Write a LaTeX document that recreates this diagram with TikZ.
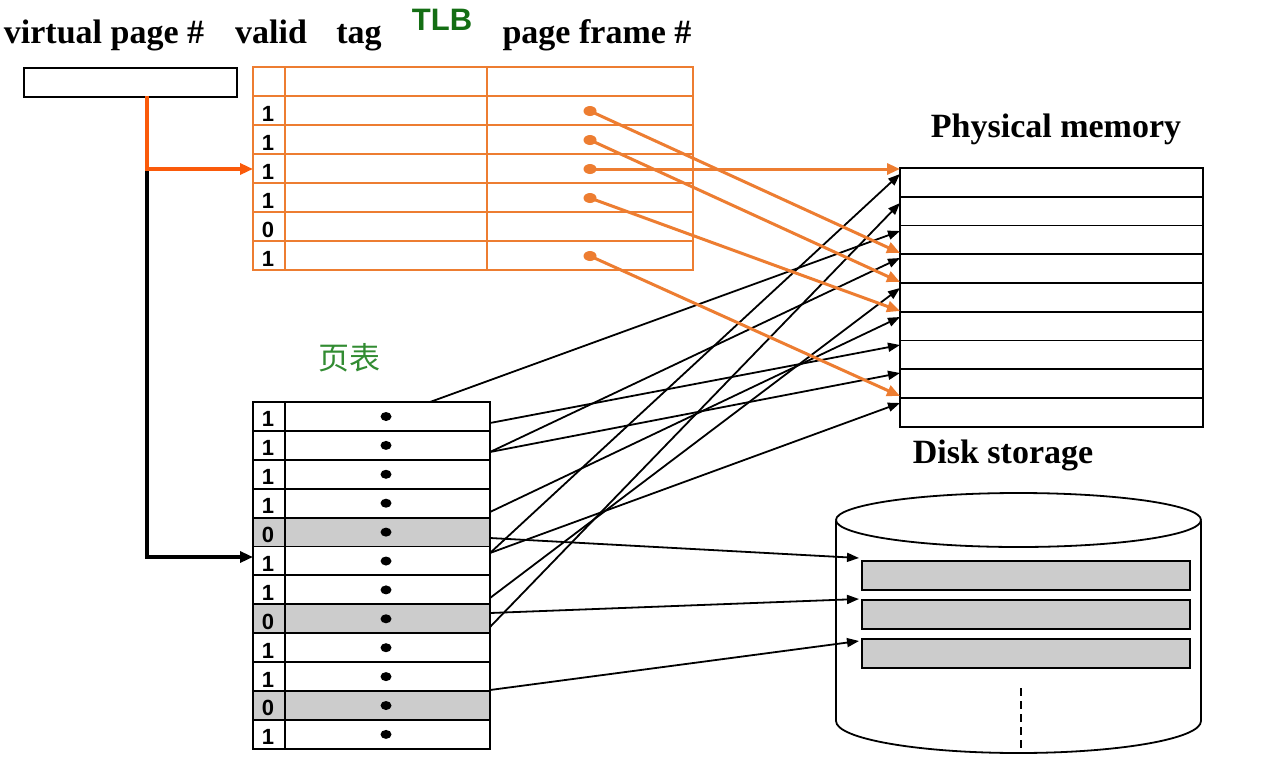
\documentclass[tikz,border=0pt]{standalone}
\usepackage{fontspec}
\setmainfont{Liberation Serif}
\setsansfont{Liberation Sans}
\newfontfamily\cjkfont{Noto Sans CJK SC}
\usetikzlibrary{arrows.meta,calc,shapes.geometric}

\definecolor{tlborange}{RGB}{237,125,49}
\definecolor{vporange}{RGB}{250,90,10}
\definecolor{tlbgreen}{RGB}{20,110,20}
\definecolor{ptgreen}{RGB}{50,140,50}
\definecolor{slotgray}{RGB}{204,204,204}

\begin{document}
\begin{tikzpicture}[x=1pt,y=-1pt,
  hdr/.style={font=\fontsize{34}{36}\selectfont\bfseries, anchor=base, inner sep=0pt},
  digit/.style={font=\sffamily\bfseries\fontsize{22}{24}\selectfont, anchor=base, inner sep=0pt},
  tblline/.style={line width=1.9pt},
  tlbline/.style={draw=tlborange, line width=2pt},
  link/.style={line width=1.8pt, -{Triangle[length=12pt,width=9pt]}},
  tlblink/.style={draw=tlborange, line width=3pt, -{Triangle[length=13pt,width=11pt]}},
  feed/.style={line width=3.2pt, -{Triangle[length=13pt,width=11pt]}},
  slot/.style={draw, line width=1.8pt, fill=slotgray, minimum width=328pt, minimum height=29pt, anchor=north west, inner sep=0pt},
  pfdot/.style={fill=tlborange, ellipse, minimum width=13pt, minimum height=10pt, inner sep=0pt},
  ptdot/.style={fill=black, ellipse, minimum width=11pt, minimum height=9pt, inner sep=0pt}
]
\useasboundingbox (0,0) rectangle (1268,769);
\fill[white] (0,0) rectangle (1268,769);

% ---------- headings ----------
\node[hdr] (lblvp) at (104,43) {virtual page \#};
\node[hdr] (lblvalid) at (271,43) {valid};
\node[hdr] (lbltag) at (359,43) {tag};
\node[anchor=base, inner sep=0pt, text=tlbgreen, font=\sffamily\bfseries\fontsize{31}{33}\selectfont] (lbltlb) at (442,30) {TLB};
\node[hdr] (lblpf) at (597,43) {page frame \#};
\node[hdr] (lblpm) at (1056,137) {Physical memory};
\node[hdr] (lbldisk) at (1003,463) {Disk storage};
\node[inner sep=0pt, text=ptgreen, font=\cjkfont\fontsize{31}{33}\selectfont] (lblpt) at (349,358) {页表};

% ---------- virtual page number register ----------
\node[draw, tblline, fill=white, minimum width=213pt, minimum height=29pt, anchor=north west, inner sep=0pt] (vpbox) at (23,67) {};
\coordinate (vpout) at (147,96);
\coordinate (tlbin) at (253,169);
\coordinate (ptin) at (253,557);
\draw[feed] (vpout) |- (ptin);
\draw[feed, vporange] (vpout) |- (tlbin);

% ---------- TLB ----------
\draw[tlbline] (253,67) rectangle (693,270);
\foreach \yy in {96,125,154,183,212,241} \draw[tlbline] (253,\yy) -- (693,\yy);
\draw[tlbline] (285,67) -- (285,270);
\draw[tlbline] (487,67) -- (487,270);
\foreach \v [count=\k] in {1,1,1,1,0,1}
  \node[digit] at (268,{96+29*\k-4}) {\v};
\node[pfdot] (tlbA) at (590,111) {};
\node[pfdot] (tlbB) at (590,140) {};
\node[pfdot] (tlbC) at (590,169) {};
\node[pfdot] (tlbD) at (590,198) {};
\node[pfdot] (tlbE) at (590,256) {};

% ---------- physical memory ----------
\draw[tblline] (900,168) rectangle (1203,426.75);
\foreach \k in {1,...,8} \draw[tblline] (900,{168+28.75*\k}) -- (1203,{168+28.75*\k});

% ---------- page table ----------
\foreach \k in {4,7,10} \fill[slotgray] (253,{402+28.9*\k}) rectangle (490,{402+28.9*(\k+1)});
\draw[tblline] (253,402) rectangle (490,748.8);
\foreach \k in {1,...,11} \draw[tblline] (253,{402+28.9*\k}) -- (490,{402+28.9*\k});
\draw[tblline] (285,402) -- (285,748.8);
\foreach \v [count=\k] in {1,1,1,1,0,1,1,0,1,1,0,1}
  \node[digit] at (268,{402+28.9*\k-4}) {\v};
\foreach \k in {0,...,11}
  \node[ptdot] (ptd\k) at (386,{402+28.9*\k+14.5}) {};

% ---------- disk ----------
\draw[line width=1.8pt, fill=white] (836,521) -- (836,721)
  arc[start angle=180, end angle=0, x radius=182.5, y radius=32] -- (1201,521);
\draw[line width=1.8pt, fill=white] (1018.5,520) ellipse [x radius=182.5, y radius=27];
\node[slot] (blk1) at (861,560) {};
\node[slot] (blk2) at (861,599) {};
\node[slot] (blk3) at (861,638) {};
\coordinate (dashtop) at (1021,688);
\coordinate (dashbot) at (1021,748);
\draw[line width=1.6pt, dash pattern=on 8pt off 5pt] (dashtop) -- (dashbot);

% ---------- connector end points ----------
\coordinate (ptTop) at (430,402);
\coordinate (pt1) at (490,423);
\coordinate (pt2) at (490,452);
\coordinate (pt4) at (490,512);
\coordinate (pt5) at (490,538);
\coordinate (pt6) at (490,553);
\coordinate (pt7) at (490,598);
\coordinate (pt8a) at (490,613);
\coordinate (pt8b) at (490,627);
\coordinate (pt11) at (490,690);

\coordinate (pm0) at (900,174);
\coordinate (pm1) at (900,203);
\coordinate (pm2) at (900,231);
\coordinate (pm3) at (900,258);
\coordinate (pm4) at (900,288);
\coordinate (pm5) at (900,317);
\coordinate (pm6) at (900,345);
\coordinate (pm7) at (900,373);
\coordinate (pm8) at (900,403);

\coordinate (pmA) at (900,253);
\coordinate (pmB) at (900,282);
\coordinate (pmC) at (900,169);
\coordinate (pmD) at (900,311);
\coordinate (pmE) at (900,396);

\coordinate (dk1) at (859,558);
\coordinate (dk2) at (859,599);
\coordinate (dk3) at (859,641);

% ---------- page table -> memory / disk ----------
\draw[link] (ptTop) -- (pm2);
\draw[link] (pt1) -- (pm6);
\draw[link] (pt2) -- (pm3);
\draw[link] (pt2) -- (pm7);
\draw[link] (pt4) -- (pm5);
\draw[link] (pt6) -- (pm0);
\draw[link] (pt6) -- (pm8);
\draw[link] (pt7) -- (pm4);
\draw[link] (pt8b) -- (pm1);
\draw[link] (pt5) -- (dk1);
\draw[link] (pt8a) -- (dk2);
\draw[link] (pt11) -- (dk3);

% ---------- TLB -> memory ----------
\draw[tlblink] (tlbA.center) -- (pmA);
\draw[tlblink] (tlbB.center) -- (pmB);
\draw[tlblink] (tlbC.center) -- (pmC);
\draw[tlblink] (tlbD.center) -- (pmD);
\draw[tlblink] (tlbE.center) -- (pmE);
\end{tikzpicture}
\end{document}
